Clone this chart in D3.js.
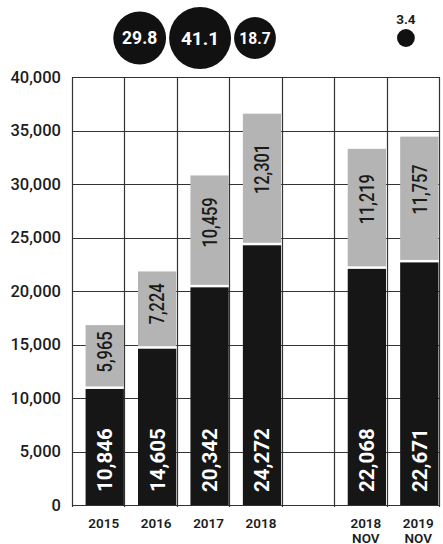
<!DOCTYPE html>
<html>
<head>
<meta charset="utf-8">
<script src="https://cdn.jsdelivr.net/npm/d3@7"></script>
<style>
	body { margin: 0; background: #fff; }
	text { font-family: Roboto, 'Open Sans', sans-serif; }
</style>
</head>
<body>
<script>
const categories = ['2015', '2016', '2017', '2018', '', '2018 NOV', '2019 NOV']
const baseValues = [10846, 14605, 20342, 24272, null, 22068, 22671]
const topValues = [5965, 7224, 10459, 12301, null, 11219, 11757]
const growth = [29.8, 41.1, 18.7, 3.4]
const yTicks = [0, 5000, 10000, 15000, 20000, 25000, 30000, 35000, 40000]

const W = 443, H = 544
const margin = {top: 77, right: 3, bottom: 39, left: 73}

const svg = d3.select('body').append('svg')
	.attr('width', W)
	.attr('height', H)

const x = d3.scaleBand()
	.domain(categories)
	.range([margin.left, W - margin.right])

const y = d3.scaleLinear()
	.domain([0, 40000])
	.range([H - margin.bottom, margin.top])

const bw = x.bandwidth()
const barX = c => x(c) + bw * 0.24
const barW = bw * 0.73
const fmt = d3.format(',')

// grid
const grid = svg.append('g').attr('stroke', '#333').attr('stroke-width', 1.2)

grid.selectAll('.h')
	.data(yTicks)
	.enter().append('line')
		.attr('x1', margin.left)
		.attr('x2', W - margin.right)
		.attr('y1', d => Math.round(y(d)) + 0.5)
		.attr('y2', d => Math.round(y(d)) + 0.5)

const vLines = categories.map(c => x(c)).concat([W - margin.right])
grid.selectAll('.v')
	.data(vLines)
	.enter().append('line')
		.attr('x1', d => Math.round(d) - 0.5)
		.attr('x2', d => Math.round(d) - 0.5)
		.attr('y1', y(40000))
		.attr('y2', y(0) + 2)

// y tick labels
svg.append('g')
	.selectAll('text')
	.data(yTicks)
	.enter().append('text')
		.attr('x', margin.left - 12)
		.attr('y', d => y(d))
		.attr('dy', '0.35em')
		.attr('text-anchor', 'end')
		.attr('font-size', 16.5)
		.attr('font-weight', 500)
		.attr('fill', '#1c1c1c')
		.text(d => fmt(d))

const data = categories.map((c, i) => ({c, base: baseValues[i], top: topValues[i]}))
	.filter(d => d.base != null)

// bars
const bars = svg.append('g')

bars.selectAll('.base')
	.data(data)
	.enter().append('rect')
		.attr('x', d => barX(d.c))
		.attr('width', barW)
		.attr('y', d => y(d.base))
		.attr('height', d => y(0) - y(d.base))
		.attr('fill', '#161616')

bars.selectAll('.top')
	.data(data)
	.enter().append('rect')
		.attr('x', d => barX(d.c))
		.attr('width', barW)
		.attr('y', d => y(d.base + d.top))
		.attr('height', d => y(d.base) - y(d.base + d.top) - 2.5)
		.attr('fill', '#b4b4b4')

// labels in bars
bars.selectAll('.bl')
	.data(data)
	.enter().append('text')
		.attr('transform', d => `translate(${barX(d.c) + barW / 2},${y(0) - 13}) rotate(-90)`)
		.attr('dy', '0.36em')
		.attr('font-size', 20.5)
		.attr('font-weight', 700)
		.attr('fill', '#fff')
		.text(d => fmt(d.base))

bars.selectAll('.tl')
	.data(data)
	.enter().append('text')
		.attr('transform', d => {
			const y0 = y(d.base + d.top), y1 = y(d.base)
			const cy = (y0 + y1) / 2 - (y1 - y0) * 0.08
			return `translate(${barX(d.c) + barW / 2},${cy}) rotate(-90) scale(0.82,1)`
		})
		.attr('dy', '0.36em')
		.attr('text-anchor', 'middle')
		.attr('font-size', 20)
		.attr('font-weight', 500)
		.attr('fill', '#1a1a1a')
		.text(d => fmt(d.top))

// x labels
const xl = svg.append('g')
	.selectAll('text')
	.data(data)
	.enter().append('text')
		.attr('x', d => barX(d.c) + barW / 2 - 1)
		.attr('y', y(0) + 23)
		.attr('text-anchor', 'middle')
		.attr('font-size', 13.5)
		.attr('font-weight', 600)
		.attr('fill', '#1c1c1c')

xl.selectAll('tspan')
	.data(d => d.c.split(' '))
	.enter().append('tspan')
		.attr('x', function () { return d3.select(this.parentNode).attr('x') })
		.attr('dy', (d, i) => i ? 14.5 : 0)
		.text(d => d)

// growth bubbles
const r = d3.scaleSqrt().domain([0, 41.1]).range([0, 31])
const cy = 38
const mid = x('2017') + bw / 2 - 4
const bubbles = [
	{v: growth[0], cx: mid - r(growth[1]) - 3 - r(growth[0])},
	{v: growth[1], cx: mid},
	{v: growth[2], cx: mid + r(growth[1]) + 3 + r(growth[2])},
	{v: growth[3], cx: x('2019 NOV') + bw * 0.35}
]

const bg = svg.append('g')
bg.selectAll('circle')
	.data(bubbles)
	.enter().append('circle')
		.attr('cx', d => d.cx)
		.attr('cy', cy)
		.attr('r', d => r(d.v))
		.attr('fill', '#111')

bg.selectAll('text')
	.data(bubbles)
	.enter().append('text')
		.attr('x', d => d.cx)
		.attr('y', d => r(d.v) > 15 ? cy : cy - r(d.v) - 10)
		.attr('dy', '0.36em')
		.attr('text-anchor', 'middle')
		.attr('font-size', d => r(d.v) > 15 ? 8.5 + r(d.v) * 0.34 : 13.5)
		.attr('font-weight', 700)
		.attr('fill', d => r(d.v) > 15 ? '#fff' : '#1c1c1c')
		.text(d => d.v)
</script>
</body>
</html>
